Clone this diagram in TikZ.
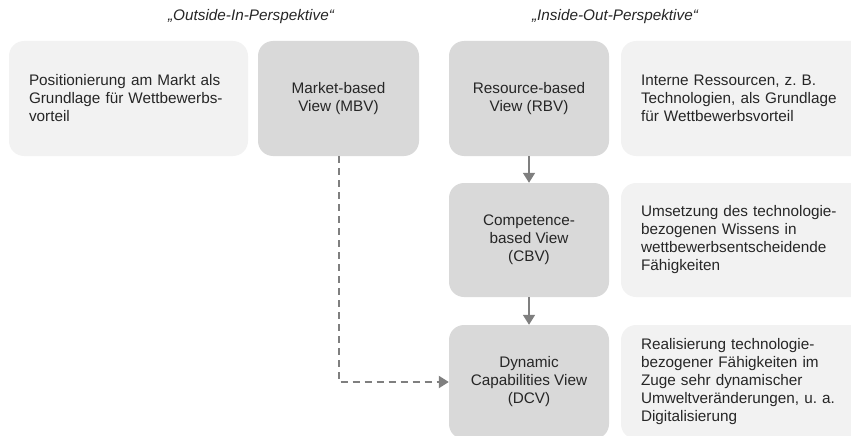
\documentclass[tikz,border=0pt]{standalone}
\usepackage{fontspec}
\setmainfont{Liberation Sans}
\usetikzlibrary{arrows.meta}
\definecolor{boxdark}{HTML}{D9D9D9}
\definecolor{boxlight}{HTML}{F2F2F2}
\definecolor{linegray}{HTML}{7F7F7F}
\definecolor{txt}{HTML}{262626}
\frenchspacing
\begin{document}
\begin{tikzpicture}[x=1pt,y=-1pt,
  font=\fontsize{15.3}{18}\selectfont\frenchspacing,
  every node/.style={text=txt},
  viewbox/.style={fill=boxdark, rounded corners=15pt, align=center,
    minimum width=160pt, minimum height=114pt, inner sep=0pt},
  descbox/.style={fill=boxlight, rounded corners=15pt, align=left,
    minimum height=114pt, inner xsep=20pt, inner ysep=0pt},
  titletext/.style={font=\fontsize{15.3}{18}\selectfont\itshape},
  solidarrow/.style={draw=linegray, line width=1.6pt, -{Triangle[length=10pt,width=12pt]}},
  dasharrow/.style={draw=linegray, line width=2pt, dash pattern=on 7pt off 5pt,
    -{Triangle[length=10pt,width=12pt]}}]
\clip (0,0) rectangle (851,436);
\useasboundingbox (0,0) rectangle (851,436);

\node[titletext] (t1) at (251,17) {„Outside-In-Perspektive“};
\node[titletext] (t2) at (615,17) {„Inside-Out-Perspektive“};

\node[descbox, text width=199pt, minimum height=115pt] (posdesc) at (128.5,98.5)
  {Positionierung am Markt als\\Grundlage für Wettbewerbs-\\vorteil};
\node[viewbox, minimum width=161pt, minimum height=115pt] (mbv) at (338.5,98.5)
  {Market-based\\View (MBV)};
\node[viewbox, minimum height=115pt] (rbv) at (529,98.5)
  {Resource-based\\View (RBV)};
\node[descbox, text width=210pt, minimum height=115pt] (rbvdesc) at (746,98.5)
  {Interne Ressourcen, z. B.\\Technologien, als Grundlage\\für Wettbewerbsvorteil};

\node[viewbox] (cbv) at (529,240)
  {Competence-\\based View\\(CBV)};
\node[descbox, text width=210pt] (cbvdesc) at (746,240)
  {Umsetzung des technologie-\\bezogenen Wissens in\\wettbewerbsentscheidende\\Fähigkeiten};

\node[viewbox] (dcv) at (529,382)
  {Dynamic\\Capabilities View\\(DCV)};
\node[descbox, text width=210pt] (dcvdesc) at (746,382)
  {Realisierung technologie-\\bezogener Fähigkeiten im\\Zuge sehr dynamischer\\Umweltveränderungen, u. a.\\Digitalisierung};

\draw[solidarrow] (rbv) -- (cbv);
\draw[solidarrow] (cbv) -- (dcv);
\draw[dasharrow] (mbv.south) |- (dcv.west);
\end{tikzpicture}
\end{document}
